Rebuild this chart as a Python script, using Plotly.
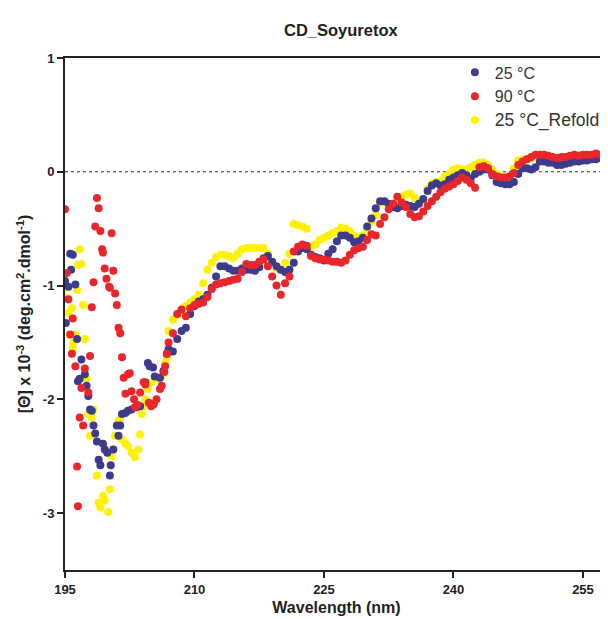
import numpy as np
import plotly.graph_objects as go

# ---------------- data ----------------
# noisy far-UV part, individual readings per series
wl_25_low = [195.0, 195.1, 195.4, 195.6, 195.7, 195.9, 196.2, 196.4, 196.5, 196.7, 196.9, 197.3,
             197.5, 197.7, 197.9, 198.1, 198.3, 198.5, 198.7, 198.9, 199.1, 199.4, 199.6, 199.9,
             200.2, 200.3, 200.6, 201.0, 201.2, 201.4, 201.6, 202.0, 202.3, 202.7, 203.3, 203.7,
             204.3, 204.6, 204.8, 205.2, 205.4, 206.0, 206.4, 206.8]
cd_25_low = [-0.96, -1.33, -1.01, -0.72, -0.86, -0.73, -0.99, -1.47, -1.84, -1.82, -1.65, -1.78,
             -1.88, -1.97, -2.09, -2.10, -2.23, -2.30, -2.37, -2.53, -2.58, -2.39, -2.44, -2.47,
             -2.67, -2.58, -2.44, -2.23, -2.32, -2.23, -2.13, -2.12, -2.10, -2.09, -2.07, -2.06,
             -1.85, -1.68, -1.71, -1.72, -1.80, -1.81, -1.75, -1.60]

wl_90_low = [195.0, 195.2, 195.4, 195.6, 195.8, 195.9, 196.2, 196.4, 196.5, 196.7, 196.9, 197.1,
             197.3, 197.7, 197.9, 198.1, 198.3, 198.5, 198.7, 198.9, 199.1, 199.3, 199.4, 199.6,
             199.8, 200.1, 200.2, 200.4, 200.6, 200.8, 201.0, 201.2, 201.4, 201.6, 201.8, 202.0,
             202.3, 202.5, 202.7, 203.0, 203.1, 203.4, 203.7, 204.1, 204.3, 204.7, 205.0, 205.3,
             205.6, 206.0, 206.2, 206.5, 206.6, 206.8]
cd_90_low = [-0.33, -0.89, -1.12, -1.43, -1.60, -1.29, -1.71, -2.59, -2.94, -2.16, -1.90, -2.23,
             -1.73, -1.94, -1.62, -1.19, -0.97, -0.48, -0.23, -0.32, -0.52, -0.68, -0.71, -0.85,
             -0.94, -1.01, -1.02, -0.54, -0.87, -1.07, -1.17, -1.37, -1.42, -1.63, -1.81, -1.95,
             -1.78, -1.77, -1.93, -2.00, -2.07, -2.05, -1.94, -1.85, -1.87, -2.03, -2.06, -2.04,
             -2.00, -1.91, -1.88, -1.76, -1.71, -1.60]

wl_rf_low = [195.0, 195.2, 195.4, 195.6, 195.8, 195.9, 196.0, 196.2, 196.4, 196.5, 196.7, 196.9,
             197.1, 197.3, 197.5, 197.7, 197.9, 198.1, 198.3, 198.7, 198.9, 199.1, 199.4, 199.6,
             200.0, 200.2, 200.4, 200.8, 201.2, 201.4, 201.6, 202.0, 202.3, 202.7, 203.1, 203.5,
             203.7, 203.9, 204.1, 204.3, 204.6, 205.0, 205.6, 206.2, 206.6, 206.8]
cd_rf_low = [-1.10, -1.02, -1.24, -1.43, -1.20, -1.55, -1.50, -1.43, -1.04, -0.82, -0.68, -0.81,
             -1.17, -1.47, -1.82, -2.13, -2.32, -2.16, -2.09, -2.67, -2.91, -2.95, -2.85, -2.89,
             -2.99, -2.79, -2.50, -2.32, -2.19, -2.17, -2.35, -2.39, -2.41, -2.47, -2.51, -2.44,
             -2.31, -2.13, -2.06, -2.00, -1.91, -1.85, -1.82, -1.80, -1.68, -1.63]

# regular 0.5 nm readings from 207 nm to 258 nm
wl_grid = list(np.round(np.arange(207.0, 258.01, 0.5), 1))

cd_25_grid = [
    -1.56, -1.58, -1.47, -1.40, -1.37, -1.25, -1.18, -1.14, -1.12, -1.08,
    -1.02, -0.92, -0.83, -0.83, -0.85, -0.87, -0.87, -0.85, -0.86, -0.86,
    -0.87, -0.84, -0.76, -0.74, -0.79, -0.83, -0.86, -0.88, -0.86, -0.80,
    -0.70, -0.67, -0.68, -0.73, -0.75, -0.76, -0.78, -0.72, -0.68, -0.61,
    -0.56, -0.56, -0.58, -0.62, -0.61, -0.58, -0.48, -0.41, -0.32, -0.26,
    -0.26, -0.28, -0.31, -0.32, -0.30, -0.29, -0.30, -0.31, -0.28, -0.24,
    -0.17, -0.12, -0.10, -0.12, -0.11, -0.07, -0.05, -0.03, -0.01, -0.03,
    -0.06, -0.02, 0.00, 0.02, 0.02, -0.03, -0.09, -0.10, -0.11, -0.11,
    -0.09, -0.02, 0.03, 0.03, 0.02, 0.04, 0.09, 0.09, 0.08, 0.08,
    0.06, 0.06, 0.07, 0.08, 0.09, 0.09, 0.10, 0.10, 0.11, 0.11,
    0.12, 0.12, 0.12]

cd_90_grid = [
    -1.50, -1.42, -1.25, -1.21, -1.27, -1.20, -1.17, -1.16, -1.15, -1.10,
    -1.03, -0.99, -0.98, -0.97, -0.96, -0.95, -0.94, -0.88, -0.81, -0.82,
    -0.82, -0.79, -0.77, -0.83, -0.92, -1.00, -1.08, -0.98, -0.92, -0.70,
    -0.66, -0.64, -0.65, -0.74, -0.76, -0.77, -0.77, -0.78, -0.79, -0.79,
    -0.80, -0.78, -0.73, -0.69, -0.67, -0.66, -0.60, -0.55, -0.56, -0.46,
    -0.40, -0.33, -0.28, -0.22, -0.27, -0.31, -0.37, -0.40, -0.39, -0.35,
    -0.30, -0.26, -0.22, -0.18, -0.15, -0.13, -0.11, -0.08, -0.05, -0.07,
    -0.10, -0.14, 0.04, 0.05, 0.03, -0.02, -0.04, -0.05, -0.05, -0.04,
    -0.01, 0.06, 0.09, 0.11, 0.13, 0.15, 0.15, 0.15, 0.14, 0.13,
    0.12, 0.13, 0.13, 0.14, 0.15, 0.14, 0.15, 0.15, 0.15, 0.16,
    0.15, 0.14, 0.12]

cd_rf_grid = [
    -1.40, -1.30, -1.26, -1.22, -1.18, -1.15, -1.12, -1.08, -0.98, -0.86,
    -0.80, -0.75, -0.73, -0.73, -0.74, -0.76, -0.72, -0.68, -0.67, -0.67,
    -0.67, -0.67, -0.67, -0.72, -0.79, -0.85, -0.86, -0.80, -0.72, -0.46,
    -0.47, -0.48, -0.50, -0.66, -0.64, -0.60, -0.58, -0.56, -0.54, -0.52,
    -0.49, -0.50, -0.52, -0.56, -0.58, -0.56, -0.50, -0.44, -0.38, -0.27,
    -0.27, -0.28, -0.30, -0.26, -0.22, -0.20, -0.19, -0.23, -0.26, -0.25,
    -0.15, -0.10, -0.09, -0.08, -0.04, -0.02, 0.02, 0.03, 0.02, 0.02,
    0.04, 0.06, 0.08, 0.08, 0.06, 0.02, -0.02, -0.04, -0.05, -0.04,
    0.03, 0.10, 0.11, 0.11, 0.12, 0.13, 0.13, 0.13, 0.13, 0.12,
    0.12, 0.12, 0.13, 0.13, 0.14, 0.14, 0.15, 0.14, 0.14, 0.15,
    0.15, 0.14, 0.13]

series_names = ["25 °C", "90 °C", "25 °C_Refold"]
x_ticks = [195, 210, 225, 240, 255]
y_ticks = [1, 0, -1, -2, -3]

# ---------------- figure ----------------
FONT = "Arial, 'Liberation Sans', Helvetica, sans-serif"
colors = {"25": "#3F3B8C", "90": "#E8262B", "rf": "#FFF200"}
MS = 8

fig = go.Figure()
# drawing order: refold at the bottom, then 25 °C, then 90 °C on top
fig.add_trace(go.Scatter(
    x=wl_rf_low + wl_grid, y=cd_rf_low + cd_rf_grid, mode="markers",
    name='<span style="font-size:17.5px">' + series_names[2] + "</span>",
    marker=dict(color=colors["rf"], size=MS, line=dict(width=0)), legendrank=3))
fig.add_trace(go.Scatter(
    x=wl_25_low + wl_grid, y=cd_25_low + cd_25_grid, mode="markers",
    name=series_names[0],
    marker=dict(color=colors["25"], size=MS, line=dict(width=0)), legendrank=1))
fig.add_trace(go.Scatter(
    x=wl_90_low + wl_grid, y=cd_90_low + cd_90_grid, mode="markers",
    name=series_names[1],
    marker=dict(color=colors["90"], size=MS, line=dict(width=0)), legendrank=2))

fig.add_shape(type="line", xref="paper", yref="y", x0=0, x1=1, y0=0, y1=0,
              line=dict(color="#333333", width=1, dash="dot"), layer="below")

# the page adds an 8 px body margin, so the figure is 8 px smaller than the window
fig.update_layout(
    width=600, height=611,
    margin=dict(l=57, r=0, t=50, b=49),
    paper_bgcolor="white", plot_bgcolor="white",
    font=dict(family=FONT, color="#222222", size=13),
    title=dict(text="<b>CD_Soyuretox</b>", x=0.508, xref="paper", xanchor="center",
               y=1 - 22 / 611, yanchor="middle", font=dict(size=16.5, color="#222222")),
    showlegend=True,
    legend=dict(x=0.718, xanchor="left", y=1.005, yanchor="top", bgcolor="rgba(0,0,0,0)",
                font=dict(size=16, color="#333333"), itemsizing="constant",
                tracegroupgap=0),
    xaxis=dict(range=[195, 257.9], tickmode="array", tickvals=x_ticks,
               ticktext=[f"<b>{t}</b>" for t in x_ticks],
               showgrid=False, zeroline=False, showline=True, linecolor="#222222",
               linewidth=2, mirror=True, ticks="outside", ticklen=6, tickwidth=2,
               tickcolor="#222222", tickfont=dict(size=13, color="#222222"),
               title=dict(text="<b>Wavelength (nm)</b>", font=dict(size=16, color="#222222"),
                          standoff=6)),
    yaxis=dict(range=[-3.5, 1], tickmode="array", tickvals=y_ticks,
               ticktext=[f"<b>{t}</b>" for t in y_ticks],
               showgrid=False, zeroline=False, showline=True, linecolor="#222222",
               linewidth=2, ticks="outside", ticklen=6, tickwidth=2,
               tickcolor="#222222", tickfont=dict(size=13, color="#222222"),
               title=dict(text="<b>[Θ] x 10<sup>-3</sup> (deg.cm<sup>2</sup>.dmol<sup>-1</sup>)</b>",
                          font=dict(size=16, color="#222222"), standoff=8)),
)
# smaller legend symbols, like the reference
fig.update_layout(legend_itemsizing="trace")
for tr in fig.data:
    pass

fig.write_html("out.html")
